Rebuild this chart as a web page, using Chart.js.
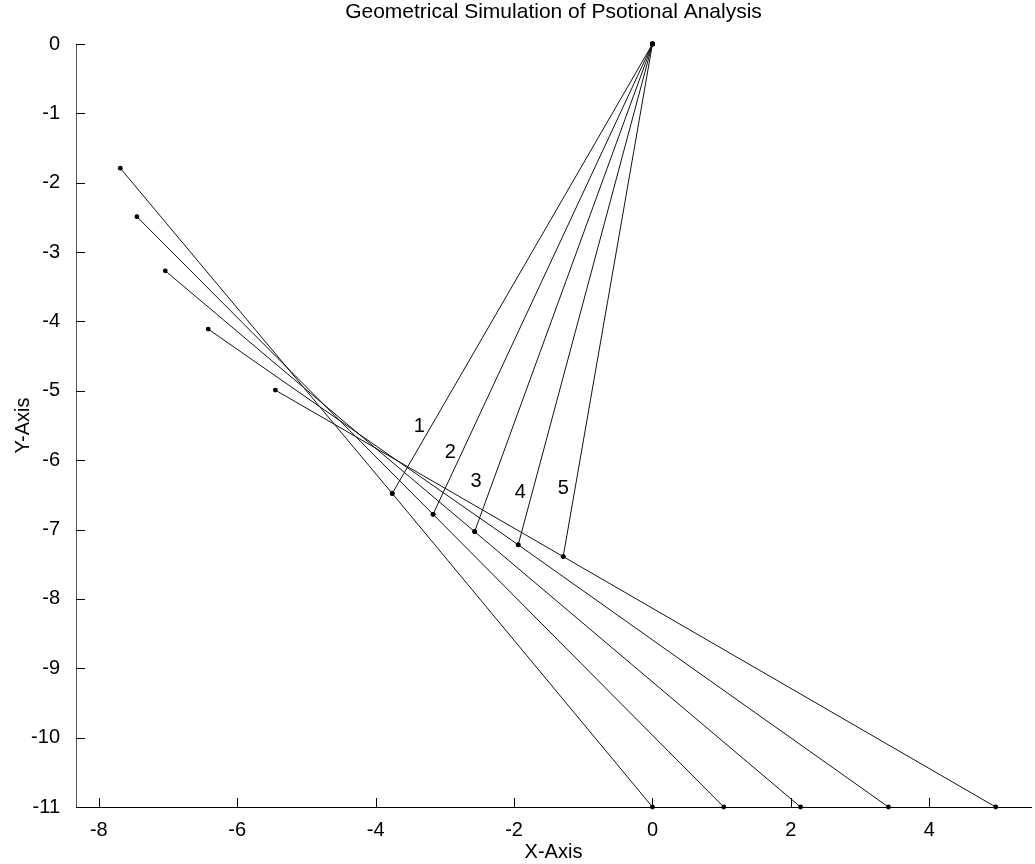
<!DOCTYPE html>
<html>
<head>
<meta charset="utf-8">
<script src="https://cdn.jsdelivr.net/npm/chart.js@4.4.1/dist/chart.umd.min.js"></script>
<style>
  body { margin: 0; background: #fff; }
  #wrap { width: 1035px; height: 864px; }
</style>
</head>
<body>
<div id="wrap"><canvas id="chart" width="1035" height="864"></canvas></div>
<script>
// fixed pivot at the top
const pivotX = 0;
const pivotY = 0;
// free end of each link (upper left)
const startX = [-7.69, -7.45, -7.04, -6.42, -5.45];
const startY = [-1.79, -2.49, -3.27, -4.11, -4.99];
// joint where the link meets the arm from the pivot
const jointX = [-3.76, -3.17, -2.57, -1.94, -1.29];
const jointY = [-6.48, -6.78, -7.03, -7.22, -7.39];
// end on the ground line
const endX = [0, 1.03, 2.14, 3.41, 4.96];
const endY = [-11, -11, -11, -11, -11];
// position numbers next to each arm
const posLabels = ['1', '2', '3', '4', '5'];
const labelX = [-3.37, -2.92, -2.55, -1.91, -1.29];
const labelY = [-5.52, -5.89, -6.31, -6.47, -6.41];

const xTicks = [-8, -6, -4, -2, 0, 2, 4];
const yTicks = [0, -1, -2, -3, -4, -5, -6, -7, -8, -9, -10, -11];
const titleText = 'Geometrical Simulation of Psotional Analysis';

const FONT = "'Liberation Sans', Arial, sans-serif";

let datasets = [];
for (let i = 0; i < startX.length; i++) {
  // link through the joint down to the ground
  datasets.push({
    data: [{x: startX[i], y: startY[i]}, {x: jointX[i], y: jointY[i]}, {x: endX[i], y: endY[i]}],
    showLine: true, borderColor: '#111', borderWidth: 1,
    pointRadius: 2.4, pointBackgroundColor: '#000', pointBorderWidth: 0, clip: false
  });
  // arm from the pivot
  datasets.push({
    data: [{x: pivotX, y: pivotY}, {x: jointX[i], y: jointY[i]}],
    showLine: true, borderColor: '#111', borderWidth: 1,
    pointRadius: 2.4, pointBackgroundColor: '#000', pointBorderWidth: 0, clip: false
  });
}

const extras = {
  id: 'extras',
  afterDraw(chart) {
    const ctx = chart.ctx, a = chart.chartArea;
    const xs = chart.scales.x, ys = chart.scales.y;
    ctx.save();
    // inward tick marks like the original
    ctx.strokeStyle = '#000';
    ctx.lineWidth = 1;
    ctx.beginPath();
    xTicks.forEach(v => {
      const p = Math.round(xs.getPixelForValue(v)) + 0.5;
      ctx.moveTo(p, a.bottom); ctx.lineTo(p, a.bottom - 9);
    });
    yTicks.forEach(v => {
      const p = Math.round(ys.getPixelForValue(v)) + 0.5;
      ctx.moveTo(a.left, p); ctx.lineTo(a.left + 9, p);
    });
    ctx.stroke();
    // numbers on the arms
    ctx.fillStyle = '#000';
    ctx.font = '20px ' + FONT;
    ctx.textAlign = 'center';
    ctx.textBaseline = 'middle';
    posLabels.forEach((t, i) => {
      ctx.fillText(t, xs.getPixelForValue(labelX[i]), ys.getPixelForValue(labelY[i]));
    });
    // title centred over the axes
    ctx.font = '21px ' + FONT;
    ctx.fillText(titleText, (a.left + a.right) / 2, 12);
    ctx.restore();
  }
};

new Chart(document.getElementById('chart'), {
  type: 'scatter',
  data: { datasets: datasets },
  options: {
    responsive: false,
    animation: false,
    layout: { padding: { top: 44, right: 0, left: 0, bottom: 0 } },
    plugins: { legend: { display: false }, tooltip: { enabled: false }, title: { display: false } },
    scales: {
      x: {
        type: 'linear', min: -8.33, max: 5.47,
        grid: { display: false },
        border: { display: true, color: '#000', width: 1 },
        afterBuildTicks: s => { s.ticks = xTicks.map(v => ({value: v})); },
        afterFit: s => { s.height = 57; },
        ticks: { color: '#000', padding: 3, maxRotation: 0, font: { family: FONT, size: 20 } },
        title: { display: true, text: 'X-Axis', color: '#000', padding: { top: 0, bottom: 0 }, font: { family: FONT, size: 20 } }
      },
      y: {
        type: 'linear', min: -11, max: 0,
        grid: { display: false },
        border: { display: true, color: '#555', width: 1 },
        afterBuildTicks: s => { s.ticks = yTicks.map(v => ({value: v})); },
        afterFit: s => { s.width = 76; },
        ticks: { color: '#000', padding: 8, font: { family: FONT, size: 20 } },
        title: { display: true, text: 'Y-Axis', color: '#000', padding: { top: 11, bottom: 0 }, font: { family: FONT, size: 20 } }
      }
    }
  },
  plugins: [extras]
});
</script>
</body>
</html>
